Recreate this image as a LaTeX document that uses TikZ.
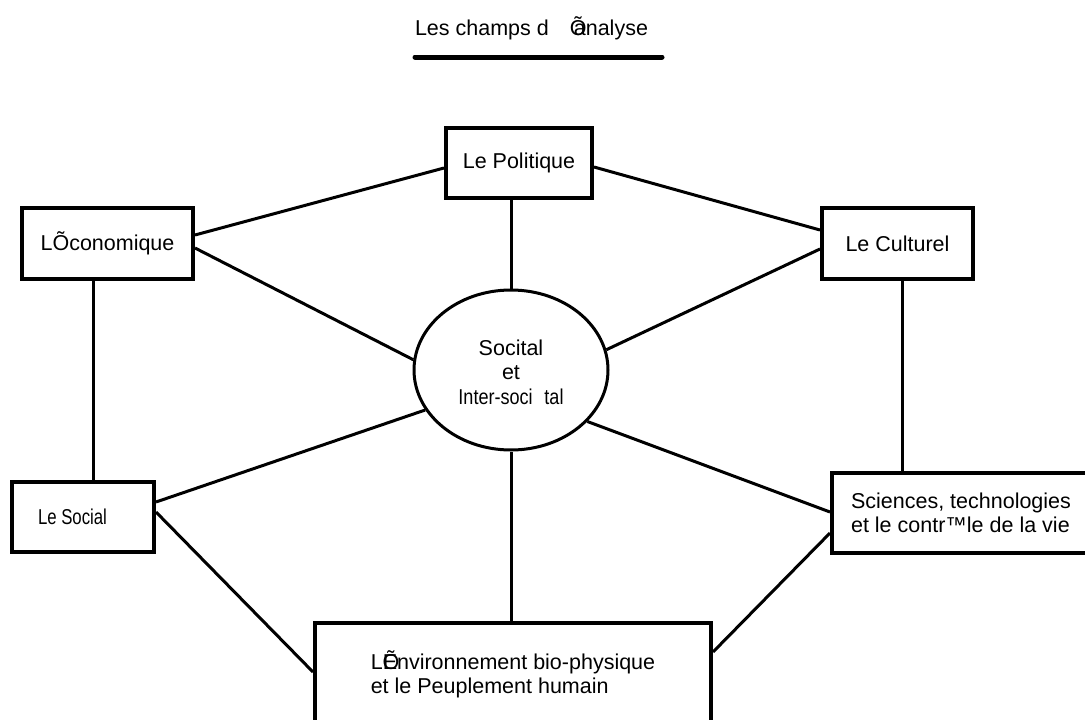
\documentclass[tikz,border=0pt]{standalone}
\usepackage{fontspec}
\setmainfont{Liberation Sans}
\usepackage{graphicx}
\usetikzlibrary{calc,shapes.geometric}
\begin{document}
\begin{tikzpicture}[x=1pt,y=-1pt,
  every node/.style={font=\fontsize{21.5}{24.5}\selectfont},
  box/.style={draw,line width=4pt,rectangle,inner sep=0pt,align=left},
  conn/.style={line width=3pt}]
\useasboundingbox (0,0) rectangle (1085,720);

% title
\node (title) at (531.5,28) {Les champs d\hspace{21pt}\rlap{Õ}\hspace{4pt}analyse};
\coordinate (ul1) at (415,57);
\coordinate (ul2) at (662,57);
\draw[line width=5pt,line cap=round] (ul1) -- (ul2);

% nodes
\node[box,minimum width=146pt,minimum height=70pt] (pol) at (519,163) {Le Politique};
\node[box,minimum width=171pt,minimum height=71pt] (eco) at (107.5,243.5) {LÕconomique};
\node[box,minimum width=151pt,minimum height=71pt] (cul) at (897.5,243.5) {Le Culturel};
\node[box,minimum width=142pt,minimum height=70pt] (soc) at (83,517)
  {\makebox[142pt][l]{\hspace{26pt}\scalebox{0.78}[1]{Le Social}}};
\node[box,minimum width=258pt,minimum height=80pt] (sci) at (961,513)
  {Sciences, technologies\\et le contr™le de la vie};
\node[box,minimum width=396pt,minimum height=103pt] (env) at (513,674.5)
  {L\rlap{Õ}Environnement bio-physique\\et le Peuplement humain};
\node[draw,ellipse,line width=3pt,minimum width=194pt,minimum height=160pt,
  inner sep=0pt,align=center] (ell) at (511,370)
  {\rule{0pt}{20pt}Socital\hspace{12pt}\\et\\\scalebox{0.84}[1]{Inter-soci\hspace{14pt}tal}\hspace{18pt}};

% connectors
\draw[conn] ($(eco.east)+(0,-8.5)$) -- ($(pol.west)+(0,5)$);
\draw[conn] ($(pol.east)+(0,4)$) -- ($(cul.west)+(0,-13.5)$);
\draw[conn] (pol.south -| ell.north) -- (ell.north);
\draw[conn] ($(eco.east)+(0,4.5)$) -- (ell.174);
\draw[conn] ($(cul.west)+(0,5.5)$) -- (ell.12);
\draw[conn] (ell.205) -- ($(soc.east)+(0,-15)$);
\draw[conn] (ell.-34) -- ($(sci.west)+(0,-1)$);
\draw[conn] (ell.south) -- (ell.south |- env.north);
\draw[conn] ($(soc.east)+(0,-5)$) -- ($(env.west)+(0,-2.5)$);
\draw[conn] ($(sci.west)+(0,20)$) -- ($(env.east)+(0,-22.5)$);
\draw[conn] ($(eco.south)+(-14.5,0)$) -- ($(soc.north)+(10,0)$);
\draw[conn] ($(cul.south)+(4.5,0)$) -- ($(sci.north)+(-59,0)$);
\end{tikzpicture}
\end{document}
